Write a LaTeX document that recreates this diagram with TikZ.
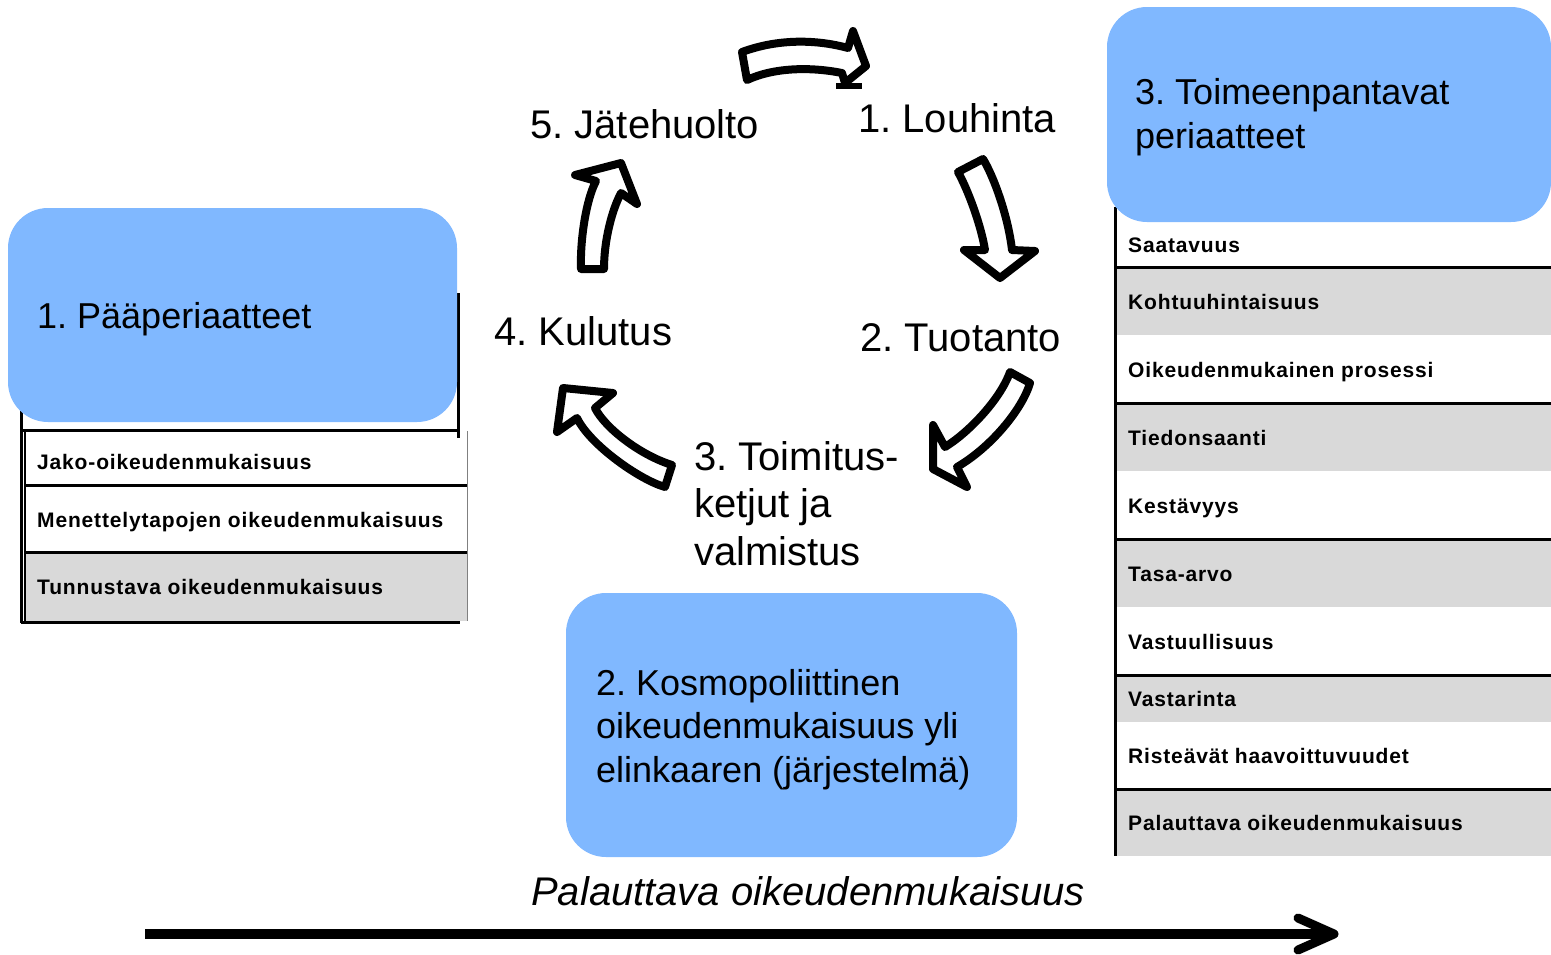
\documentclass[tikz,border=0pt]{standalone}
\usepackage{fontspec}
\usetikzlibrary{calc}
\setmainfont{Liberation Sans}
\newfontfamily\rowfont[LetterSpace=4]{Liberation Sans}
\frenchspacing
\definecolor{boxblue}{RGB}{128,184,255}
\definecolor{rowgrey}{RGB}{217,217,217}
\tikzset{
  bluebox/.style={fill=boxblue, rounded corners=40pt, inner sep=0pt},
  rowtext/.style={font=\rowfont\bfseries\fontsize{21}{25}\selectfont, inner sep=0pt, anchor=base west},
  cyclabel/.style={font=\fontsize{40}{47.5}\selectfont, inner sep=0pt, anchor=base west, align=left},
  boxlabel/.style={font=\fontsize{36}{43.5}\selectfont, inner sep=0pt, anchor=base west, align=left},
  tline/.style={line width=3pt, black},
  blockarrow/.style={draw=black, fill=white, line width=8pt, line join=round},
}
\begin{document}
\begin{tikzpicture}[x=1pt,y=-1pt]
\useasboundingbox (0,0) rectangle (1551,954);
\fill[white] (0,0) rectangle (1551,954);

% ---------- left table ----------
\fill[white] (25,431) rectangle (467,621);
\fill[rowgrey] (25,553) rectangle (467,621);
\draw[tline] (21,293) -- (21,623);
\draw[line width=1.5pt] (25,430) -- (25,621);
\draw[tline] (458,293) -- (458,438);
\draw[tline] (21,430) -- (458,430);
\draw[tline] (25,485) -- (467,485);
\draw[tline] (25,552) -- (467,552);
\draw[tline] (21,622) -- (460,622);
\draw[line width=1pt, gray] (467,431) -- (467,621);
\node[bluebox, minimum width=449pt, minimum height=214pt] (lbox) at (232.5,315) {};
\node[boxlabel] (lboxt) at (37,328) {1. Pääperiaatteet};
\node[rowtext] (l1) at (37,469) {Jako-oikeudenmukaisuus};
\node[rowtext] (l2) at (37,527) {Menettelytapojen oikeudenmukaisuus};
\node[rowtext] (l3) at (37,594) {Tunnustava oikeudenmukaisuus};

% ---------- right table ----------
\fill[rowgrey] (1116,268) rectangle (1551,335);
\fill[rowgrey] (1116,404) rectangle (1551,471);
\fill[rowgrey] (1116,540) rectangle (1551,607);
\fill[rowgrey] (1116,675) rectangle (1551,722);
\fill[rowgrey] (1116,790) rectangle (1551,856);
\draw[tline] (1115,207) -- (1115,856);
\draw[tline] (1115,267) -- (1551,267);
\draw[tline] (1115,403) -- (1551,403);
\draw[tline] (1115,539) -- (1551,539);
\draw[tline] (1115,675) -- (1551,675);
\draw[tline] (1115,789) -- (1551,789);
\node[bluebox, minimum width=444pt, minimum height=215pt] (rbox) at (1329,114.5) {};
\node[boxlabel] (rboxt) at (1135,148) {3. Toimeenpantavat\\periaatteet};
\node[rowtext] (r1) at (1128,252) {Saatavuus};
\node[rowtext] (r2) at (1128,309) {Kohtuuhintaisuus};
\node[rowtext] (r3) at (1128,377) {Oikeudenmukainen prosessi};
\node[rowtext] (r4) at (1128,445) {Tiedonsaanti};
\node[rowtext] (r5) at (1128,513) {Kestävyys};
\node[rowtext] (r6) at (1128,581) {Tasa-arvo};
\node[rowtext] (r7) at (1128,649) {Vastuullisuus};
\node[rowtext] (r8) at (1128,706) {Vastarinta};
\node[rowtext] (r9) at (1128,763) {Risteävät haavoittuvuudet};
\node[rowtext] (r10) at (1128,830) {Palauttava oikeudenmukaisuus};

% ---------- centre box ----------
\node[bluebox, minimum width=451pt, minimum height=264pt] (cbox) at (791.5,725) {};
\node[boxlabel] (cboxt) at (596,782) {2. Kosmopoliittinen\\oikeudenmukaisuus yli\\elinkaaren (järjestelmä)};

% ---------- cycle labels ----------
\node[cyclabel] (c1) at (858,132) {1. Louhinta};
\node[cyclabel] (c2) at (860,351) {2. Tuotanto};
\node[cyclabel] (c3) at (694,565) {3. Toimitus-\\ketjut ja\\valmistus};
\node[cyclabel] (c4) at (494,345) {4. Kulutus};
\node[cyclabel] (c5) at (530,138) {5. Jätehuolto};

% ---------- block arrows ----------
\draw[blockarrow] (742,52) .. controls (777,39) and (815,39) .. (848,48) -- (853,31) -- (866,66) -- (845,83) -- (842,73)
  .. controls (812,67) and (775,67) .. (747,80) -- cycle;
\fill[black] (836,83) rectangle (862,89);
\draw[blockarrow] (958,172) -- (983,159) .. controls (993,175) and (1008,215) .. (1012,250) -- (1035,251) -- (1000,278) -- (964,250) -- (985,250)
  .. controls (981,225) and (968,190) .. (958,172) -- cycle;
\draw[blockarrow] (1010,372) -- (1030,383) .. controls (1022,410) and (990,448) .. (957,467) -- (967,487) -- (933,469) -- (933,425) -- (945,447)
  .. controls (968,433) and (1000,400) .. (1010,372) -- cycle;
\draw[blockarrow] (563,388) -- (613,393) -- (595,408) .. controls (605,428) and (640,455) .. (672,465) -- (665,487)
  .. controls (640,480) and (590,445) .. (577,418) -- (557,432) -- cycle;
\draw[blockarrow] (581,269) -- (604,269) .. controls (604,240) and (612,210) .. (621,193) -- (637,204) -- (621,163) -- (575,175) -- (596,181)
  .. controls (586,200) and (580,240) .. (581,269) -- cycle;

% ---------- bottom arrow ----------
\node[font=\itshape\fontsize{40}{48}\selectfont, inner sep=0pt, anchor=base west] (restor) at (531,905) {Palauttava oikeudenmukaisuus};
\coordinate (ba) at (145,934);
\coordinate (bb) at (1330,934);
\coordinate (bt) at (1334,934);
\draw[line width=10pt] (ba) -- (bb);
\draw[line width=9pt, line cap=round, line join=round] ($(bt)+(-36,-16)$) -- (bt) -- ($(bt)+(-36,16)$);
\end{tikzpicture}
\end{document}
